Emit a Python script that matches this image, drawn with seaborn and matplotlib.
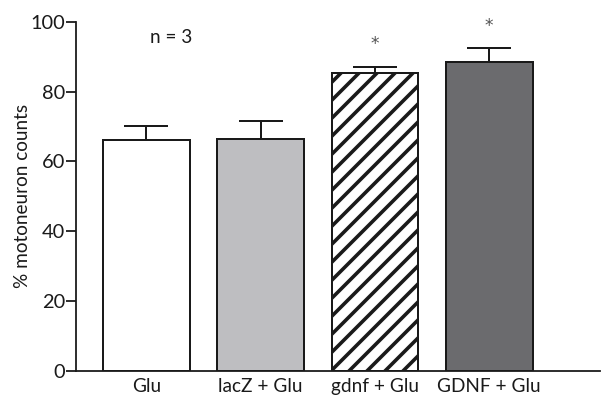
import numpy as np
import pandas as pd
import matplotlib
matplotlib.use("Agg")
import matplotlib.pyplot as plt
import seaborn as sns

groups = ["Glu", "lacZ + Glu", "gdnf + Glu", "GDNF + Glu"]
counts = [66.1, 66.3, 85.2, 88.5]
sem = [4.1, 5.3, 1.9, 4.0]
stars = ["", "", "*", "*"]

# sizes below are given in pixels and converted to points for this dpi
DPI = 54
S = 72 / DPI

sns.set_theme(style="ticks")
plt.rcParams['font.family'] = ['Lato', 'DejaVu Sans']
plt.rcParams['hatch.linewidth'] = 3.6 * S

df = pd.DataFrame({'group': groups, 'count': counts})

fig = plt.figure(figsize=(601 / DPI, 396 / DPI), dpi=DPI)
ax = fig.add_axes([76 / 601, 1 - 370.7 / 396, 524 / 601, 349 / 396])

sns.barplot(data=df, x='group', y='count', ax=ax, width=0.76,
            palette=["#ffffff", "#bdbec2", "#ffffff", "#6a6b6f"],
            hue='group', legend=False,
            edgecolor="#1a1a1a", linewidth=2 * S, errorbar=None)
ax.patches[2].set_hatch('/')

ax.errorbar(range(len(groups)), counts, yerr=[np.zeros(len(sem)), sem],
            fmt='none', ecolor="#1a1a1a", elinewidth=2 * S, capsize=22 * S, capthick=2 * S)

for i, s in enumerate(stars):
    if s:
        ax.text(i, counts[i] + sem[i] + 6.4, s, ha='center', va='center',
                fontsize=17 * S, color="#555555", family='DejaVu Sans')

ax.text(0.22, 95.6, "n = 3", ha='center', va='center', fontsize=19 * S, color="#1a1a1a")

ax.set_ylim(0, 100)
ax.set_xlim(-0.617, 3.97)
ax.set_yticks([0, 20, 40, 60, 80, 100])
ax.set_xlabel(None)
ax.set_ylabel("% motoneuron counts", fontsize=19 * S, color="#1a1a1a", labelpad=-1 * S)
ax.tick_params(axis='y', length=10 * S, width=1.8 * S, labelsize=20 * S, colors="#1a1a1a", pad=1 * S)
ax.tick_params(axis='x', length=0, labelsize=19 * S, colors="#1a1a1a", pad=7.5 * S)
ax.spines['top'].set_visible(False)
ax.spines['right'].set_visible(False)
for side in ['left', 'bottom']:
    ax.spines[side].set_linewidth(1.8 * S)
    ax.spines[side].set_color("#1a1a1a")

fig.savefig("out.png", dpi=DPI)
